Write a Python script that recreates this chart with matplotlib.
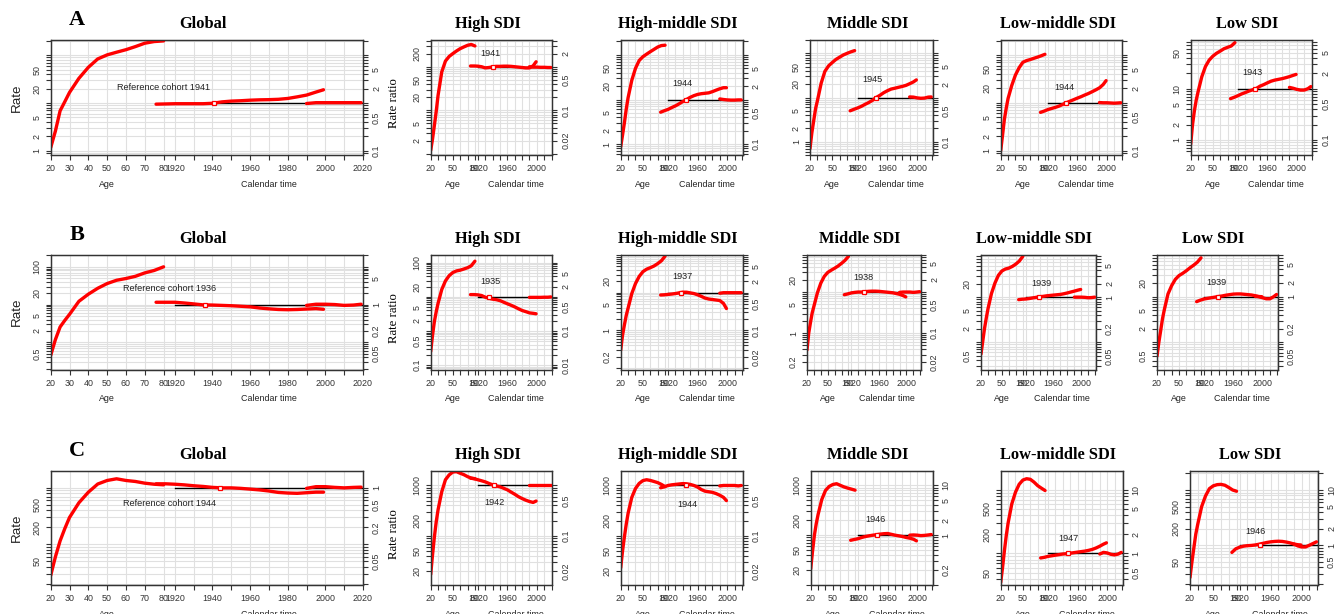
import numpy as np
import matplotlib.pyplot as plt
from matplotlib.ticker import FixedLocator, NullLocator, FuncFormatter

# ---- values ----
REGIONS = ["Global", "High SDI", "High-middle SDI", "Middle SDI", "Low-middle SDI", "Low SDI"]
AGES = [20, 22.5, 25, 27.5, 30, 35, 40, 45, 50, 55, 60, 65, 70, 75, 80]
COHORTS = [1910, 1915, 1920, 1925, 1930, 1935, 1940, 1945, 1950, 1955,
           1960, 1965, 1970, 1975, 1980, 1985, 1990, 1995, 1999]
PERIODS = [1990, 1995, 2000, 2005, 2010, 2015, 2019]

# panel A
A_RATE = [
    [1.17, 2.6, 6.9, 10.7, 16.7, 33, 56, 84, 102, 116, 131, 152, 179, 194, 200],
    [1.2, 2.2, 4.5, 9.5, 22, 76, 135, 172, 200, 230, 260, 285, 310, 325, 300],
    [0.87, 1.6, 3.0, 6.1, 11, 27, 50, 75, 91, 104, 118, 133, 150, 162, 165],
    [0.7, 1.6, 3.0, 5.6, 8.5, 21, 39, 52, 62, 73, 82, 92, 100, 108, 115],
    [1.0, 2.1, 4.5, 7.7, 12.3, 23, 38, 54, 70, 76, 80, 85, 90, 96, 103],
    [0.83, 2.0, 3.7, 6.0, 8.7, 17, 27, 36, 43, 49, 54, 60, 64, 68, 79],
]
A_COHORT = [
    [0.95, 0.96, 0.97, 0.97, 0.97, 0.97, 0.99, 1.06, 1.1, 1.12, 1.15, 1.17, 1.18, 1.2, 1.25, 1.35, 1.47, 1.7, 1.9],
    [1.04, 1.04, 1.03, 1.0, 0.94, 0.96, 0.99, 1.02, 1.02, 1.03, 1.03, 1.02, 1.0, 0.98, 0.96, 0.94, 0.94, 1.05, 1.3],
    [0.52, 0.56, 0.6, 0.66, 0.72, 0.8, 0.9, 1.0, 1.12, 1.22, 1.3, 1.35, 1.38, 1.41, 1.5, 1.62, 1.74, 1.84, 1.84],
    [0.5, 0.54, 0.58, 0.63, 0.7, 0.77, 0.86, 1.0, 1.12, 1.28, 1.42, 1.55, 1.62, 1.7, 1.78, 1.88, 2.05, 2.25, 2.5],
    [0.63, 0.67, 0.72, 0.76, 0.8, 0.85, 0.92, 1.0, 1.08, 1.16, 1.25, 1.34, 1.45, 1.56, 1.7, 1.86, 2.05, 2.4, 2.9],
    [0.64, 0.68, 0.73, 0.79, 0.84, 0.9, 0.95, 1.01, 1.12, 1.2, 1.3, 1.4, 1.47, 1.52, 1.57, 1.64, 1.72, 1.82, 1.9],
]
A_PERIOD = [
    [0.98, 1.02, 1.02, 1.02, 1.02, 1.02, 1.02],
    [1.0, 0.98, 0.98, 0.97, 0.97, 0.96, 0.96],
    [1.03, 1.0, 0.98, 0.97, 0.97, 0.98, 0.98],
    [1.03, 1.02, 0.98, 0.96, 0.97, 1.02, 1.03],
    [1.01, 1.0, 1.0, 0.99, 0.98, 0.99, 1.0],
    [1.06, 1.02, 0.97, 0.94, 0.94, 1.0, 1.1],
]
A_REF = [1941, 1941, 1944, 1945, 1944, 1943]

# panel B
B_RATE = [
    [0.45, 1.18, 2.55, 3.8, 5.5, 12.2, 18.8, 27, 36, 44, 49, 56, 69, 80, 100],
    [0.25, 0.75, 1.9, 3.7, 6.5, 16.5, 29.5, 42, 52, 58, 61, 66, 72, 82, 112],
    [0.3, 0.75, 1.4, 2.5, 3.9, 9.5, 17.5, 27, 36, 42, 46, 51, 59, 70, 93],
    [0.39, 1.0, 1.8, 3.1, 4.5, 9.5, 16.5, 24, 30, 34, 38, 43, 50, 59, 74],
    [0.55, 1.05, 2.0, 3.4, 5.5, 12, 20.5, 30.5, 38, 42, 44, 48, 54, 63, 80],
    [0.5, 1.0, 1.8, 3.3, 5.2, 11.5, 17.5, 24, 29, 32.5, 37, 43, 49, 57, 71],
]
B_COHORT = [
    [1.15, 1.15, 1.15, 1.1, 1.04, 0.98, 0.97, 0.95, 0.93, 0.9, 0.87, 0.81, 0.77, 0.74, 0.73, 0.74, 0.76, 0.78, 0.75],
    [1.17, 1.17, 1.15, 1.1, 0.98, 0.92, 0.86, 0.83, 0.78, 0.7, 0.63, 0.57, 0.51, 0.45, 0.4, 0.37, 0.34, 0.33, 0.32],
    [0.87, 0.88, 0.9, 0.92, 0.95, 0.99, 1.03, 1.03, 0.99, 0.95, 0.88, 0.8, 0.72, 0.68, 0.66, 0.64, 0.62, 0.52, 0.38],
    [0.86, 0.9, 0.95, 0.98, 1.0, 1.0, 1.02, 1.04, 1.05, 1.05, 1.04, 1.02, 1.0, 0.98, 0.96, 0.92, 0.88, 0.82, 0.76],
    [0.88, 0.9, 0.91, 0.93, 0.96, 0.99, 1.02, 1.04, 1.07, 1.09, 1.11, 1.13, 1.15, 1.19, 1.24, 1.3, 1.36, 1.43, 1.48],
    [0.78, 0.84, 0.89, 0.92, 0.95, 0.98, 1.01, 1.04, 1.08, 1.11, 1.14, 1.15, 1.15, 1.13, 1.11, 1.09, 1.05, 1.01, 1.0],
]
B_PERIOD = [
    [0.95, 1.02, 1.02, 1.0, 0.95, 0.97, 1.02],
    [0.97, 0.97, 0.97, 0.97, 0.98, 0.98, 1.0],
    [0.97, 1.0, 1.0, 1.0, 1.0, 1.0, 1.0],
    [0.98, 1.0, 1.0, 1.0, 0.98, 1.0, 1.02],
    [1.0, 1.0, 1.0, 0.99, 0.97, 0.98, 1.0],
    [1.02, 1.0, 0.95, 0.9, 0.9, 1.0, 1.12],
]
B_REF = [1936, 1935, 1937, 1938, 1939, 1939]

# panel C
C_RATE = [
    [28, 60, 115, 190, 299, 545, 837, 1170, 1352, 1448, 1352, 1298, 1211, 1160, 1132],
    [17, 42, 95, 190, 330, 750, 1300, 1620, 1850, 1880, 1750, 1640, 1500, 1400, 1365],
    [23, 50, 95, 170, 280, 580, 870, 1100, 1250, 1300, 1260, 1200, 1140, 1050, 950],
    [21, 48, 100, 170, 260, 520, 790, 950, 1040, 1078, 1000, 930, 880, 840, 800],
    [35, 60, 110, 190, 300, 600, 916, 1220, 1420, 1490, 1460, 1320, 1160, 1060, 973],
    [26, 50, 90, 160, 240, 500, 780, 1058, 1190, 1250, 1265, 1220, 1110, 1000, 950],
]
C_COHORT = [
    [1.18, 1.18, 1.16, 1.13, 1.09, 1.06, 1.02, 1.0, 1.0, 0.98, 0.95, 0.92, 0.88, 0.83, 0.81, 0.8, 0.82, 0.84, 0.84],
    [1.4, 1.36, 1.3, 1.24, 1.18, 1.1, 1.03, 0.98, 0.94, 0.88, 0.82, 0.74, 0.67, 0.6, 0.55, 0.51, 0.48, 0.46, 0.49],
    [0.9, 0.94, 1.0, 1.03, 1.05, 1.07, 1.09, 1.08, 1.05, 1.0, 0.93, 0.83, 0.77, 0.75, 0.73, 0.69, 0.64, 0.58, 0.5],
    [0.79, 0.82, 0.85, 0.9, 0.94, 0.97, 1.0, 1.02, 1.05, 1.07, 1.08, 1.04, 1.0, 0.97, 0.94, 0.9, 0.87, 0.83, 0.77],
    [0.85, 0.87, 0.9, 0.92, 0.94, 0.96, 0.98, 0.99, 1.01, 1.03, 1.05, 1.07, 1.09, 1.12, 1.16, 1.22, 1.3, 1.4, 1.47],
    [0.74, 0.86, 0.92, 0.96, 0.98, 0.99, 1.01, 1.04, 1.08, 1.12, 1.15, 1.17, 1.18, 1.17, 1.14, 1.1, 1.05, 1.02, 1.01],
]
C_PERIOD = [
    [0.98, 1.05, 1.05, 1.02, 1.0, 1.02, 1.03],
    [1.0, 1.0, 1.0, 1.0, 1.0, 1.0, 1.0],
    [0.98, 1.0, 1.0, 1.0, 1.0, 0.98, 1.0],
    [1.0, 1.01, 1.0, 0.98, 0.99, 1.01, 1.03],
    [0.98, 1.04, 1.02, 0.97, 0.95, 0.98, 1.04],
    [1.05, 0.97, 0.93, 0.93, 1.0, 1.08, 1.15],
]
C_REF = [1944, 1942, 1944, 1946, 1947, 1946]

# ---- axis set-up (scales, tick labels, text spots) ----
A_YLIM = [(0.82, 209), (0.94, 411), (0.57, 216), (0.5, 200), (0.81, 205), (0.51, 89)]
A_FAC = [10, 100, 10, 10, 10, 10]
A_LEFT = [[1, 2, 5, 20, 50], [2, 5, 20, 50, 200], [1, 2, 5, 20, 50], [1, 2, 5, 20, 50],
          [1, 2, 5, 20, 50], [1, 2, 5, 10, 50]]
A_RIGHT = [[0.1, 0.5, 2, 5], [0.02, 0.1, 0.5, 2], [0.1, 0.5, 2, 5], [0.1, 0.5, 2, 5],
           [0.1, 0.5, 2, 5], [0.1, 0.5, 2, 5]]
A_TXT = [(1914, 2.17), (1937, 1.98), (1940, 2.29), (1940, 2.5), (1942, 2.09), (1940, 2.07)]

B_YLIM = [(0.19, 212), (0.074, 176), (0.092, 103), (0.13, 82), (0.25, 88), (0.255, 84)]
B_FAC = [10, 10, 10, 10, 10, 10]
B_LEFT = [[0.5, 2, 5, 20, 100], [0.1, 0.5, 2, 5, 20, 100], [0.2, 1, 5, 20], [0.2, 1, 5, 20],
          [0.5, 2, 5, 20], [0.5, 2, 5, 20]]
B_RIGHT = [[0.05, 0.2, 1, 5], [0.01, 0.1, 0.5, 2, 5], [0.02, 0.1, 0.5, 2, 5], [0.02, 0.1, 0.5, 2, 5],
           [0.05, 0.2, 1, 2, 5], [0.05, 0.2, 1, 2, 5]]
B_TXT = [(1917, 2.66), (1937, 2.9), (1939, 2.67), (1937, 2.29), (1942, 2.0), (1937, 2.06)]

C_YLIM = [(19, 1990), (10.5, 1940), (10.5, 1940), (10, 1940), (32, 1970), (19, 2210)]
C_FAC = [1000, 1000, 1000, 100, 100, 100]
C_LEFT = [[50, 200, 500], [20, 50, 200, 1000], [20, 50, 200, 1000], [20, 50, 200, 1000],
          [50, 200, 500], [50, 200, 500]]
C_RIGHT = [[0.05, 0.2, 0.5, 1], [0.02, 0.1, 0.5], [0.02, 0.1, 0.5], [0.2, 1, 2, 5, 10],
           [0.5, 1, 2, 5, 10], [0.5, 1, 2, 5, 10]]
C_TXT = [(1917, 0.52), (1942, 0.45), (1946, 0.42), (1944, 2.04), (1947, 1.72), (1940, 1.8)]

# panel frames in pixels: (left, right) per panel, (top, bottom) per row
ROW_Y = [(40, 155), (254.5, 369.5), (471, 585)]
ROW_X = [
    [(50.7, 363), (430.7, 552.3), (620.7, 742.7), (810, 932.7), (1000.7, 1122.3), (1190.7, 1312.3)],
    [(50.7, 363), (430.7, 552.3), (620.7, 742.7), (807, 921), (981, 1096), (1157, 1278)],
    [(50.7, 363), (430.7, 552.3), (620.7, 742.7), (810.7, 932.7), (1000.7, 1122.7), (1190, 1318)],
]

W, H = 1334, 614
RED = '#ff0000'
GRID = '#e0e0e0'
INK = '#333333'
SERIF = 'Liberation Serif'
plt.rcParams['font.family'] = ['Liberation Sans', 'DejaVu Sans']

fig = plt.figure(figsize=(W / 100, H / 100), dpi=100)


def log_steps(lo, hi):
    out = []
    for k in range(-3, 5):
        for n in range(1, 10):
            v = n * 10.0 ** k
            if lo <= v <= hi:
                out.append(v)
    return out


def keep_labels(keep):
    def f(v, pos):
        for t in keep:
            if abs(v - t) < 1e-6 * t:
                return '%g' % t
        return ''
    return FuncFormatter(f)


def panel(box, rows, is_global, rate, coh, per, ref, ylim, fac, left_lab, right_lab, txt_xy, txt):
    (x0, x1), (y0, y1) = box, rows
    ax = fig.add_axes([x0 / W, 1 - y1 / H, (x1 - x0) / W, (y1 - y0) / H])
    off = 1834 if is_global else 1836
    xlim = (20 + off, 2020 if is_global else 2021)
    ax.set_yscale('log')
    ax.set_ylim(*ylim)

    levels = log_steps(*ylim)
    age_ticks = np.arange(20, 81, 10)
    cal_ticks = np.arange(1920, 2021, 10)
    for v in levels:
        ax.axhline(v, color=GRID, lw=0.8, zorder=0)
    for v in list(age_ticks + off) + list(cal_ticks):
        ax.axvline(v, color=GRID, lw=0.8, zorder=0)

    ax.plot(np.array(AGES) + off, rate, color=RED, lw=2.4, zorder=3, solid_capstyle='round')

    if is_global:
        age_lab = [str(a) for a in age_ticks]
        cal_lab = [str(c) if c % 20 == 0 else '' for c in cal_ticks]
    else:
        age_lab = [str(a) if a in (20, 50, 80) else '' for a in age_ticks]
        cal_lab = [str(c) if c in (1920, 1960, 2000) else '' for c in cal_ticks]
    ax.set_xticks(list(age_ticks + off) + list(cal_ticks), age_lab + cal_lab)
    ax.tick_params(axis='x', length=3.5, width=0.8, pad=3, labelsize=6.4, colors=INK)

    ax2 = ax.twinx()
    ax2.set_yscale('log')
    ax2.set_ylim(ylim[0] / fac, ylim[1] / fac)
    ax2.plot([1920, 2020], [1, 1], color='black', lw=1, zorder=2)
    ax2.plot(COHORTS, coh, color=RED, lw=2.4, zorder=3, solid_capstyle='round')
    ax2.plot(PERIODS, per, color=RED, lw=2.4, zorder=3, solid_capstyle='round')
    ax2.plot([ref], [1], marker='s', ms=3.2, mfc='white', mec=RED, mew=0.9, zorder=4)
    ax2.text(txt_xy[0], txt_xy[1], txt, ha='center', va='center', fontsize=6.6, color='#222')

    for a, labs, scale in ((ax, left_lab, 1), (ax2, right_lab, fac)):
        a.yaxis.set_major_locator(FixedLocator([v / scale for v in levels]))
        a.yaxis.set_minor_locator(NullLocator())
        a.yaxis.set_major_formatter(keep_labels(labs))
        a.tick_params(axis='y', labelrotation=90, length=3.5, width=0.8, pad=3,
                      labelsize=6.4, colors=INK)
        for s in a.spines.values():
            s.set_color(INK)
            s.set_linewidth(0.9)
    for lbl in ax.get_yticklabels() + ax2.get_yticklabels():
        lbl.set_va('center')
    ax.set_xlim(*xlim)

    ax.annotate('Age', xy=(50 + off, 0), xycoords=('data', 'axes fraction'),
                xytext=(0, -21), textcoords='offset points', ha='center', va='center',
                fontsize=6.4, color='#222')
    ax.annotate('Calendar time', xy=(1970 if is_global else 1972, 0),
                xycoords=('data', 'axes fraction'), xytext=(0, -21),
                textcoords='offset points', ha='center', va='center', fontsize=6.4, color='#222')
    return ax


rows = [
    ('A', A_RATE, A_COHORT, A_PERIOD, A_REF, A_YLIM, A_FAC, A_LEFT, A_RIGHT, A_TXT),
    ('B', B_RATE, B_COHORT, B_PERIOD, B_REF, B_YLIM, B_FAC, B_LEFT, B_RIGHT, B_TXT),
    ('C', C_RATE, C_COHORT, C_PERIOD, C_REF, C_YLIM, C_FAC, C_LEFT, C_RIGHT, C_TXT),
]

for r, (letter, rate, coh, per, ref, ylim, fac, lft, rgt, txt) in enumerate(rows):
    y0, y1 = ROW_Y[r]
    for i, name in enumerate(REGIONS):
        is_global = i == 0
        label = 'Reference cohort %d' % ref[i] if is_global else str(ref[i])
        panel(ROW_X[r][i], ROW_Y[r], is_global, rate[i], coh[i], per[i], ref[i],
              ylim[i], fac[i], lft[i], rgt[i], txt[i], label)
        x0, x1 = ROW_X[r][i]
        fig.text(((x0 + x1) / 2 - 4) / W, 1 - (y0 - 16) / H, name, ha='center', va='center',
                 family=SERIF, weight='bold', fontsize=11.8)
    fig.text(77 / W, 1 - (y0 - 20) / H, letter, ha='center', va='center',
             family=SERIF, weight='bold', fontsize=16)
    fig.text(17 / W, 1 - ((y0 + y1) / 2) / H, 'Rate', rotation=90, ha='center', va='center',
             fontsize=9.6, color='#222')
    fig.text(394 / W, 1 - ((y0 + y1) / 2 + 6) / H, 'Rate ratio', rotation=90, ha='center',
             va='center', family=SERIF, fontsize=9.2)

fig.savefig('out.png', dpi=100)
